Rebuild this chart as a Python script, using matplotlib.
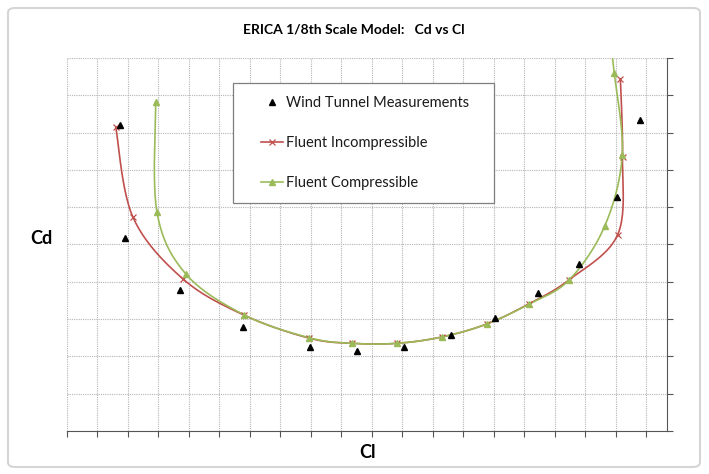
import matplotlib
matplotlib.use("Agg")
import matplotlib.pyplot as plt
import numpy as np
from matplotlib.patches import Rectangle, FancyBboxPatch
from matplotlib.lines import Line2D

plt.rcParams['font.family'] = ['Lato', 'DejaVu Sans']

# values, in grid units (no tick labels on the original)
cl_tunnel = [1.75, 1.89, 3.70, 5.76, 7.99, 9.53, 11.06, 12.60, 14.06, 15.46, 16.79, 18.04, 18.79]
cd_tunnel = [8.20, 5.18, 3.78, 2.80, 2.24, 2.15, 2.26, 2.57, 3.02, 3.69, 4.47, 6.27, 8.34]

cl_incomp = [1.60, 2.16, 3.80, 5.80, 7.94, 9.35, 10.82, 12.30, 13.78, 15.16, 16.47, 18.07, 18.23, 18.16]
cd_incomp = [8.15, 5.74, 4.08, 3.11, 2.49, 2.35, 2.35, 2.52, 2.87, 3.41, 4.05, 5.26, 7.35, 9.44]

cl_comp = [2.91, 2.95, 3.90, 5.82, 7.95, 9.35, 10.82, 12.31, 13.78, 15.16, 16.48, 17.65, 18.22, 17.96, 17.75]
cd_comp = [8.83, 5.88, 4.21, 3.11, 2.50, 2.35, 2.35, 2.52, 2.87, 3.40, 4.05, 5.50, 7.40, 9.59, 11.0]


def smooth(x, y, n=24):
    # Catmull-Rom curve through the points, like Excel's smoothed lines
    p = np.column_stack([x, y]).astype(float)
    p = np.vstack([p[0], p, p[-1]])
    t = np.linspace(0, 1, n, endpoint=False)[:, None]
    out = []
    for i in range(1, len(p) - 2):
        p0, p1, p2, p3 = p[i - 1], p[i], p[i + 1], p[i + 2]
        out.append(0.5 * (2 * p1 + (p2 - p0) * t
                          + (2 * p0 - 5 * p1 + 4 * p2 - p3) * t ** 2
                          + (-p0 + 3 * p1 - 3 * p2 + p3) * t ** 3))
    out.append(p[-2][None])
    out = np.vstack(out)
    return out[:, 0], out[:, 1]


W, H = 709, 474
fig = plt.figure(figsize=(W / 100, H / 100), dpi=100)
fig.patch.set_facecolor('white')
fig.patches.append(FancyBboxPatch((8 / W, 7 / H), 692 / W, 459 / H, boxstyle='round,pad=0,rounding_size=0.01',
                                  transform=fig.transFigure, facecolor='none', edgecolor='#d5d5d5', lw=1.5))

ax = fig.add_axes([67 / W, 1 - 431 / H, 600 / W, 373 / H])
xmax = 19.69
ax.set_xlim(0, xmax)
ax.set_ylim(0, 10)

ax.set_xticks(np.arange(0, 20, 1))
ax.set_yticks(np.arange(0, 11, 1))
ax.grid(True, color='#b5b5b5', lw=0.8, ls=(0, (1, 1)))
ax.set_axisbelow(True)
ax.tick_params(axis='x', direction='out', length=4, color='#555555', labelbottom=False)
ax.tick_params(axis='y', direction='out', length=4, color='#555555', left=False, right=True,
               labelleft=False, labelright=False)
for s in ['left', 'top']:
    ax.spines[s].set_visible(False)
ax.spines['bottom'].set_color('#555555')
ax.spines['right'].set_color('#555555')

red = '#C0504D'
green = '#9BBB59'

xs, ys = smooth(cl_incomp, cd_incomp)
ax.plot(xs, ys, color=red, lw=1.2, zorder=3)
ax.plot(cl_incomp, cd_incomp, ls='none', marker='x', ms=4.5, mew=0.9, color=red, zorder=4)

xs, ys = smooth(cl_comp, cd_comp)
ax.plot(xs, ys, color=green, lw=1.2, zorder=3)
ax.plot(cl_comp, cd_comp, ls='none', marker='^', ms=4.2, color=green, zorder=5)

ax.plot(cl_tunnel, cd_tunnel, ls='none', marker='^', ms=4.8, color='black', zorder=6)

# legend box
fig.patches.append(Rectangle((233 / W, 1 - 203 / H), 261 / W, 120 / H, transform=fig.transFigure,
                             facecolor='white', edgecolor='#7f7f7f', lw=0.9, zorder=10))
handles = [Line2D([], [], ls='none', marker='^', ms=4.8, color='black'),
           Line2D([], [], color=red, lw=1.2, marker='x', ms=4.5, mew=0.9),
           Line2D([], [], color=green, lw=1.2, marker='^', ms=4.2)]
labels = ['Wind Tunnel Measurements', 'Fluent Incompressible', 'Fluent Compressible']
leg = fig.legend(handles, labels, loc='upper left', bbox_to_anchor=(261 / W, 1 - 96 / H), frameon=False,
                 fontsize=10.5, labelspacing=1.78, handlelength=1.5, handletextpad=0.2, borderpad=0,
                 borderaxespad=0, numpoints=1)
leg.set_zorder(11)
for txt in leg.get_texts():
    txt.set_color('#1a1a1a')

fig.text(354 / W, 1 - 30 / H, 'ERICA 1/8th Scale Model:   Cd vs Cl', ha='center', va='center',
         fontsize=10, fontweight='bold')
fig.text(41 / W, 1 - 239 / H, 'Cd', ha='center', va='center', fontsize=13, fontweight='bold')
fig.text(368 / W, 1 - 453 / H, 'Cl', ha='center', va='center', fontsize=13, fontweight='bold')

fig.savefig('out.png', dpi=100)
